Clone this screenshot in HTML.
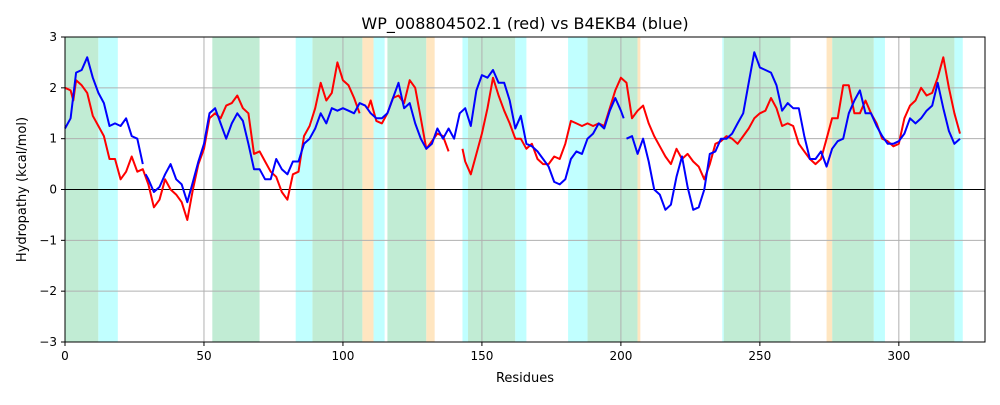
<!DOCTYPE html>
<html><head><meta charset="utf-8"><style>
body{margin:0;background:#fff;font-family:"Liberation Sans","DejaVu Sans",sans-serif}
svg text{font-family:"DejaVu Sans","Liberation Sans",sans-serif}
</style></head><body>
<svg id="c" width="1000" height="400" xmlns="http://www.w3.org/2000/svg"></svg>
<script>
const xTicks=[0,50,100,150,200,250,300];
const yTicks=[-3,-2,-1,0,1,2,3];
const greenSpans=[[0,12],[53,70],[89,107],[116,130],[145,162],[188,206],[237,261],[276,291],[304,320]];
const cyanSpans=[[12,19],[83,89],[111,115],[143,145],[162,166],[181,188],[236.5,237],[291,295],[320,323]];
const orangeSpans=[[107,111],[130,133],[206,207],[274,276]];
const redRes=[0,2,3,4,6,8,10,12,14,16,18,20,22,24,26,28,30,32,34,36,38,40,42,44,46,48,50,52,54,56,58,60,62,64,66,68,70,72,74,76,78,80,82,84,86,88,90,92,94,96,98,100,102,104,106,107,109,110,112,114,116,118,120,122,124,126,128,130,132,134,136,138,140,143,144,146,148,150,152,154,156,158,160,162,164,166,168,170,172,174,176,178,180,182,184,186,188,190,192,194,196,198,200,202,204,206,208,210,212,214,216,218,220,222,224,226,228,230,232,234,236,238,240,242,244,246,248,250,252,254,256,258,260,262,264,266,268,270,272,274,276,278,280,282,284,286,288,290,292,294,296,298,300,302,304,306,308,310,312,314,316,318,320,322];
const redVal=[2.0,1.95,1.75,2.15,2.05,1.9,1.45,1.25,1.05,0.6,0.6,0.2,0.35,0.65,0.35,0.4,0.1,-0.35,-0.2,0.2,0.0,-0.1,-0.25,-0.6,0.0,0.5,0.8,1.4,1.5,1.4,1.65,1.7,1.85,1.6,1.5,0.7,0.75,0.55,0.35,0.25,-0.05,-0.2,0.3,0.35,1.05,1.25,1.6,2.1,1.75,1.9,2.5,2.15,2.05,1.8,1.5,null,1.6,1.75,1.35,1.3,1.5,1.8,1.85,1.7,2.15,2.0,1.4,0.8,0.95,1.1,1.05,0.75,null,0.8,0.55,0.3,0.7,1.1,1.6,2.2,1.85,1.55,1.3,1.0,1.0,0.8,0.9,0.6,0.5,0.5,0.65,0.6,0.9,1.35,1.3,1.25,1.3,1.25,1.3,1.25,1.6,1.95,2.2,2.1,1.4,1.55,1.65,1.3,1.05,0.85,0.65,0.5,0.8,0.6,0.7,0.55,0.45,0.2,0.5,0.9,0.95,1.05,1.0,0.9,1.05,1.2,1.4,1.5,1.55,1.8,1.6,1.25,1.3,1.25,0.9,0.75,0.6,0.5,0.6,1.0,1.4,1.4,2.05,2.05,1.5,1.5,1.75,1.5,1.3,1.0,0.95,0.85,0.9,1.4,1.65,1.75,2.0,1.85,1.9,2.2,2.6,2.0,1.5,1.1];
const blueRes=[0,2,4,6,8,10,12,14,16,18,20,22,24,26,28,28.5,29,30,32,34,36,38,40,42,44,46,48,50,52,54,56,58,60,62,64,66,68,70,72,74,76,78,80,82,84,86,88,90,92,94,96,98,100,102,104,106,108,110,112,114,116,118,120,122,124,126,128,130,132,134,136,138,140,142,144,146,148,150,152,154,156,158,160,162,164,166,168,170,172,174,176,178,180,182,184,186,188,190,192,194,196,198,200,201,201.5,202,204,206,208,210,212,214,216,218,220,222,224,226,228,230,232,234,236,238,240,242,244,246,248,250,252,254,256,258,260,262,264,266,268,270,272,274,276,278,280,282,284,286,288,290,292,294,296,298,300,302,304,306,308,310,312,314,316,318,320,322];
const blueVal=[1.2,1.4,2.3,2.35,2.6,2.2,1.9,1.7,1.25,1.3,1.25,1.4,1.05,1.0,0.5,null,0.3,0.2,-0.05,0.05,0.3,0.5,0.2,0.1,-0.25,0.15,0.55,0.9,1.5,1.6,1.3,1.0,1.3,1.5,1.35,0.9,0.4,0.4,0.2,0.2,0.6,0.4,0.3,0.55,0.55,0.9,1.0,1.2,1.5,1.3,1.6,1.55,1.6,1.55,1.5,1.7,1.65,1.5,1.4,1.4,1.5,1.8,2.1,1.6,1.7,1.3,1.0,0.8,0.9,1.2,1.0,1.2,1.0,1.5,1.6,1.25,1.95,2.25,2.2,2.35,2.1,2.1,1.75,1.2,1.45,0.9,0.85,0.75,0.6,0.45,0.15,0.1,0.2,0.6,0.75,0.7,1.0,1.1,1.3,1.2,1.55,1.8,1.55,1.4,null,1.0,1.05,0.7,1.0,0.55,0.0,-0.1,-0.4,-0.3,0.25,0.65,0.05,-0.4,-0.35,0.0,0.7,0.75,1.0,1.0,1.1,1.3,1.5,2.1,2.7,2.4,2.35,2.3,2.05,1.55,1.7,1.6,1.6,1.05,0.6,0.6,0.75,0.45,0.8,0.95,1.0,1.5,1.75,1.95,1.5,1.5,1.25,1.05,0.9,0.9,0.95,1.1,1.4,1.3,1.4,1.55,1.65,2.1,1.6,1.15,0.9,1.0];

const L=65,R=985,T=37,B=342,XMAX=331;
const sx=v=>L+(v/XMAX)*(R-L);
const sy=v=>T+(3-v)/6*(B-T);
const svg=document.getElementById('c');
const NS='http://www.w3.org/2000/svg';
function mk(tag,attrs){const e=document.createElementNS(NS,tag);for(const k in attrs)e.setAttribute(k,attrs[k]);svg.appendChild(e);return e;}

function spans(list,color,name){list.forEach(s=>{
  const r=mk('rect',{x:sx(s[0]),y:T,width:sx(s[1])-sx(s[0]),height:B-T,fill:color});
  
  
});}
spans(greenSpans,'#c1ecd4','green-region');
spans(cyanSpans,'#c1ffff','cyan-region');
spans(orangeSpans,'#ffe6c1','orange-region');

xTicks.forEach(t=>{
  const g=mk('line',{x1:sx(t),x2:sx(t),y1:T,y2:B,stroke:'#b0b0b0','stroke-width':1});
  
  
  const k=mk('line',{x1:sx(t),x2:sx(t),y1:B,y2:B+4,stroke:'#000'});
  
  
  const tx=mk('text',{x:sx(t),y:B+18,'text-anchor':'middle','font-size':12});
  tx.textContent=t;
  
  
});
yTicks.forEach(t=>{
  const g=mk('line',{x1:L,x2:R,y1:sy(t),y2:sy(t),stroke:t===0?'#000':'#b0b0b0','stroke-width':1});
  
  
  const k=mk('line',{x1:L-4,x2:L,y1:sy(t),y2:sy(t),stroke:'#000'});
  
  
  const tx=mk('text',{x:L-8,y:sy(t)+4,'text-anchor':'end','font-size':12});
  tx.textContent=(t<0?'\u2212'+(-t):t);
  
  
});

function series(res,vals,color,name){
  let d='',pen=false;
  res.forEach((r,i)=>{const v=vals[i];if(v===null){pen=false;return;}
    d+=(pen?'L':'M')+sx(r).toFixed(1)+','+sy(v).toFixed(1);pen=true;});
  const p=mk('path',{d:d,fill:'none',stroke:color,'stroke-width':2,'stroke-linejoin':'round'});
  
  
}
series(redRes,redVal,'#ff0000','red-series');
series(blueRes,blueVal,'#0000ff','blue-series');

const fr=mk('rect',{x:L,y:T,width:R-L,height:B-T,fill:'none',stroke:'#000','stroke-width':1});


const ti=mk('text',{x:(L+R)/2,y:29,'text-anchor':'middle','font-size':16});
ti.textContent='WP_008804502.1 (red) vs B4EKB4 (blue)';


const xl=mk('text',{x:(L+R)/2,y:382,'text-anchor':'middle','font-size':13});
xl.textContent='Residues';


const yl=mk('text',{x:0,y:0,'text-anchor':'middle','font-size':13,transform:'translate(26,'+((T+B)/2)+') rotate(-90)'});
yl.textContent='Hydropathy (kcal/mol)';


</script>
</body></html>
